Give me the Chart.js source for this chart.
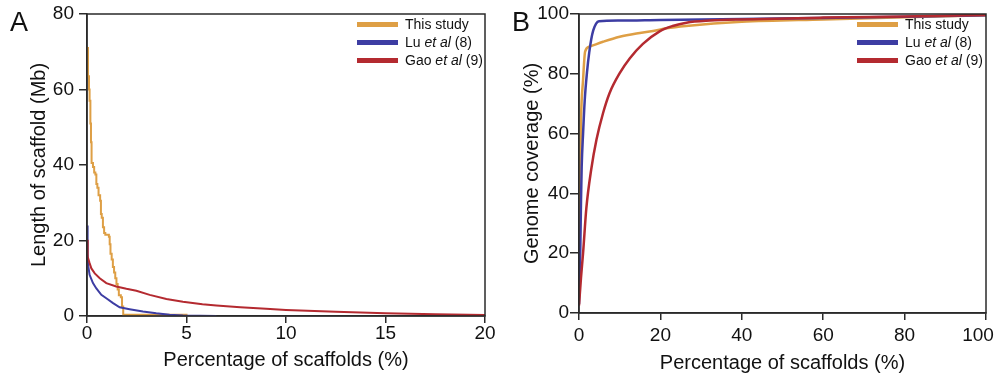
<!DOCTYPE html>
<html>
<head>
<meta charset="utf-8">
<script src="https://cdn.jsdelivr.net/npm/chart.js@4.4.1/dist/chart.umd.min.js"></script>
<style>
  html, body { margin:0; padding:0; background:#fff; }
  body { width:995px; height:375px; position:relative; overflow:hidden; font-family:"Liberation Sans", Arial, Helvetica, sans-serif; color:#111; }
  .cv { position:absolute; top:0; }
  .panel { position:absolute; font-size:27px; line-height:27px; color:#111; }
  .legend { position:absolute; top:15px; font-size:14px; color:#111; }
  .legend .row { height:18px; line-height:18px; white-space:nowrap; }
  .legend .sw { display:inline-block; width:41px; height:5px; vertical-align:middle; margin-right:7px; position:relative; top:-1px; }
</style>
</head>
<body>
<div class="cv" style="left:0;width:497px;height:375px;"><canvas id="chartA"></canvas></div>
<div class="cv" style="left:497px;width:498px;height:375px;"><canvas id="chartB"></canvas></div>
<div class="panel" style="left:10px;top:9px;">A</div>
<div class="panel" style="left:512px;top:9px;">B</div>
<div class="legend" id="legA" style="left:357px;"></div>
<div class="legend" id="legB" style="left:857px;"></div>
<script>
// ---- Data ----
const seriesNames = ['This study', 'Lu et al (8)', 'Gao et al (9)'];
const seriesColors = ['#DE9F45', '#3D3DA3', '#B42A30'];

// Panel A: length of scaffold (Mb) vs percentage of scaffolds (%)
const aXTicks = [0, 5, 10, 15, 20];
const aYTicks = [0, 20, 40, 60, 80];
const aStudy = [[0,71],[0.05,63.5],[0.1,60],[0.13,57],[0.17,51],[0.2,46],[0.23,40.5],[0.3,39.5],[0.36,38],[0.42,37.5],[0.47,35],[0.52,34],[0.58,32],[0.66,30.5],[0.7,27],[0.74,26],[0.8,23.5],[0.86,22],[0.92,21.5],[1.1,21],[1.14,19],[1.18,16.5],[1.24,15],[1.3,13],[1.36,11.5],[1.42,10],[1.48,8.5],[1.54,7],[1.6,5.5],[1.7,5],[1.76,2.5],[1.82,0.3],[5,0.2]];
const aLu = [[0,24],[0.02,20],[0.04,16.5],[0.07,13],[0.13,10.9],[0.3,8.7],[0.47,7.3],[0.72,5.6],[0.97,4.7],[1.31,3.4],[1.64,2.3],[2.14,1.8],[2.81,1.2],[3.48,0.7],[4.15,0.35],[4.82,0.12],[6.5,0.02]];
const aGao = [[0,20.2],[0.02,17.5],[0.05,15.7],[0.13,14],[0.22,12.6],[0.39,11.3],[0.64,10],[0.97,8.7],[1.47,7.8],[1.98,7.2],[2.48,6.7],[3.15,5.6],[3.99,4.5],[4.82,3.8],[5.8,3.1],[6.5,2.8],[7.7,2.3],[9,1.9],[10,1.6],[12.5,1.1],[15,0.7],[17.5,0.45],[20,0.25]];

// Panel B: genome coverage (%) vs percentage of scaffolds (%)
const bXTicks = [0, 20, 40, 60, 80, 100];
const bYTicks = [0, 20, 40, 60, 80, 100];
const bStudy = [[0,8],[0.2,40],[0.5,65],[1.0,78],[1.5,87.4],[2.6,89.1],[5.9,90.7],[10,92.4],[14.1,93.5],[18.2,94.3],[21.5,95.2],[26.3,96],[40,97.4],[60,98.2],[80,98.9],[100,99.6]];
const bLu = [[0,3],[0.3,20],[0.5,38],[0.66,49],[1.0,60],[1.4,71],[2.0,81],[2.5,87],[3.0,91.5],[3.5,94.5],[4.2,96.8],[4.9,97.6],[10,97.8],[20,98.0],[40,98.3],[60,98.7],[80,99.1],[100,99.6]];
const bGao = [[0,2.5],[0.5,12],[1.0,20],[1.8,35],[3.0,48],[4.3,58],[5.9,66.8],[7.5,73.5],[10,80.2],[12.5,85.2],[15.7,90],[19.9,94.3],[23,96],[26.4,97.1],[32.2,97.8],[40,98.2],[60,98.8],[80,99.2],[100,99.7]];

// ---- Helpers ----
const FONT = '"Liberation Sans", Arial, Helvetica, sans-serif';
const AX = '#2a2a2a';
const toPts = arr => arr.map(p => ({x: p[0], y: p[1]}));

function legendHTML(el) {
  const parts = [
    ['This study', '', ''],
    ['Lu ', 'et al', ' (8)'],
    ['Gao ', 'et al', ' (9)']
  ];
  el.innerHTML = parts.map((p, i) =>
    '<div class="row"><span class="sw" style="background:' + seriesColors[i] + '"></span>' +
    p[0] + (p[1] ? '<i>' + p[1] + '</i>' : '') + p[2] + '</div>').join('');
}
legendHTML(document.getElementById('legA'));
legendHTML(document.getElementById('legB'));

const framePlugin = {
  id: 'frame',
  afterDatasetsDraw(chart) {
    const {ctx, chartArea: a} = chart;
    ctx.save();
    ctx.strokeStyle = AX;
    ctx.lineWidth = 1.5;
    ctx.strokeRect(a.left, a.top, a.right - a.left, a.bottom - a.top);
    ctx.restore();
  }
};

function axisCfg(o) {
  return {
    type: 'linear',
    position: o.position,
    min: o.min, max: o.max,
    afterBuildTicks: s => { s.ticks = o.ticks.map(v => ({value: v})); },
    ticks: {
      color: '#111',
      font: {family: FONT, size: 19, lineHeight: 1},
      padding: o.pad,
      maxRotation: 0,
      autoSkip: false
    },
    grid: {display: true, drawOnChartArea: false, drawTicks: true, tickLength: o.tl, color: AX, lineWidth: 1.5},
    border: {display: true, color: AX, width: 1.5},
    title: {
      display: true, text: o.title, color: '#111',
      font: {family: FONT, size: 20, lineHeight: 1.2},
      padding: o.titlePad
    },
    afterFit: s => {
      if (o.position === 'bottom') s.height = o.size; else s.width = o.size;
      s.paddingLeft = 0; s.paddingRight = 0; s.paddingTop = 0; s.paddingBottom = 0;
    }
  };
}

function makeChart(id, sets, xo, yo, padRight, stepFirst, lw, lastLabelShift) {
  const datasets = sets.map((d, i) => ({
    label: seriesNames[i],
    data: toPts(d),
    borderColor: seriesColors[i],
    backgroundColor: seriesColors[i],
    borderWidth: lw,
    pointRadius: 0,
    fill: false,
    stepped: (stepFirst && i === 0) ? true : false,
    cubicInterpolationMode: stepFirst ? 'default' : 'monotone',
    tension: 0
  }));
  // draw order: Gao below, Lu, then This study on top (as in reference)
  datasets[0].order = 3; datasets[1].order = 2; datasets[2].order = 1;
  const shiftPlugin = {
    id: 'shiftLast',
    beforeDraw(chart) {
      if (!lastLabelShift) return;
      const items = chart.scales.x.getLabelItems();
      if (items.length) items[items.length - 1].options.translation[0] -= lastLabelShift;
    }
  };
  return new Chart(document.getElementById(id), {
    type: 'line',
    data: {datasets},
    options: {
      responsive: true,
      maintainAspectRatio: false,
      animation: false,
      events: [],
      layout: {padding: {top: 14, right: padRight, left: 0, bottom: 0}},
      plugins: {legend: {display: false}, tooltip: {enabled: false}},
      scales: {x: axisCfg(xo), y: axisCfg(yo)}
    },
    plugins: [framePlugin, shiftPlugin]
  });
}

makeChart('chartA', [aStudy, aLu, aGao],
  {position: 'bottom', min: 0, max: 20, ticks: aXTicks, pad: 1, tl: 7, size: 59, title: 'Percentage of scaffolds (%)', titlePad: {top: 0, bottom: 3}},
  {position: 'left', min: 0, max: 80, ticks: aYTicks, pad: 5, tl: 8, size: 87, title: 'Length of scaffold (Mb)', titlePad: {top: 27, bottom: 0}},
  12, true, 2, 0);

makeChart('chartB', [bStudy, bLu, bGao],
  {position: 'bottom', min: 0, max: 100, ticks: bXTicks, pad: 6, tl: 7, size: 62, title: 'Percentage of scaffolds (%)', titlePad: {top: 0, bottom: 0}},
  {position: 'left', min: 0, max: 100, ticks: bYTicks, pad: 1, tl: 9, size: 82, title: 'Genome coverage (%)', titlePad: {top: 23, bottom: 0}},
  9, false, 2.5, 8);
</script>
</body>
</html>
